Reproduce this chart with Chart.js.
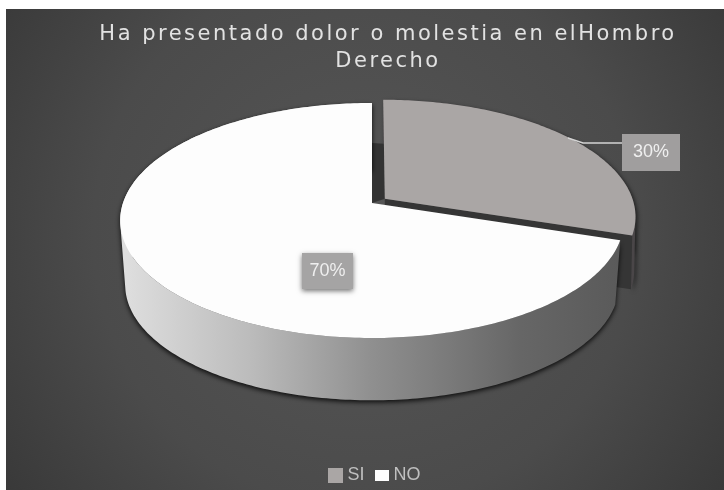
<!DOCTYPE html>
<html>
<head>
<meta charset="utf-8">
<style>html,body{margin:0;padding:0;background:#fff}canvas{display:block}</style>
<script src="https://cdn.jsdelivr.net/npm/chart.js@4/dist/chart.umd.min.js"></script>
</head>
<body>
<canvas id="pie" width="724" height="490"></canvas>
<script>
// Answers to the survey question
const categories = ['SI', 'NO'];
const responses = [30, 70];
const sliceColors = ['#aaa6a5', '#fdfdfd'];
const titleLines = ['Ha presentado dolor o molestia en elHombro', 'Derecho'];

// How far each slice is pulled out of the pie, as a fraction of its radius
const sliceExplode = [0.064, 0];
// Thickness and bottom-face scale of each slice
const sliceBases = [{depth: 54, scale: 0.995}, {depth: 65, scale: 0.98}];
// Legend swatch sizes [width, height]
const swatchSizes = [[15, 15], [14, 11]];

// Tilted-disc view of the pie
const view = {cx: 372, cy: 203, rx: 249, ry: 114.9, persist: 0.149};
const panel = {left: 6, top: 9};
const labelBoxes = [
  {x: 622, y: 134, w: 58, h: 37, fill: '#a09e9e', leader: [[568, 138], [583, 143], [622, 143]]},
  {x: 302, y: 253, w: 51, h: 36, fill: '#a5a4a4', shadow: true}
];

function project(theta, r, ex, ey, base) {
  const u = r * Math.cos(theta) + ex;
  const v = r * Math.sin(theta) + ey;
  const den = 1 - view.persist * v;
  const s = base ? base.scale : 1;
  return [view.cx + s * view.rx * u / den, view.cy + (base ? base.depth : 0) + s * view.ry * v / den];
}

function rimPoints(a0, a1, ex, ey, base) {
  const n = Math.max(8, Math.ceil(Math.abs(a1 - a0) * 60));
  const pts = [];
  for (let i = 0; i <= n; i++) pts.push(project(a0 + (a1 - a0) * i / n, 1, ex, ey, base));
  return pts;
}

function fillPoly(ctx, pts, fill) {
  ctx.beginPath();
  pts.forEach((p, i) => i ? ctx.lineTo(p[0], p[1]) : ctx.moveTo(p[0], p[1]));
  ctx.closePath();
  ctx.fillStyle = fill;
  ctx.fill();
}

// Wall between two rims, built from quads wound the same way so that
// overlapping front and back faces never cancel under the nonzero rule
function fillWall(ctx, rim, base, fill) {
  ctx.beginPath();
  for (let i = 0; i < rim.length - 1; i++) {
    let quad = [rim[i], rim[i + 1], base[i + 1], base[i]];
    let area = 0;
    quad.forEach((p, j) => {
      const q = quad[(j + 1) % 4];
      area += p[0] * q[1] - q[0] * p[1];
    });
    if (area < 0) quad = quad.slice().reverse();
    quad.forEach((p, j) => j ? ctx.lineTo(p[0], p[1]) : ctx.moveTo(p[0], p[1]));
    ctx.closePath();
  }
  ctx.fillStyle = fill;
  ctx.fill();
}

function makeSwatch(color, size) {
  const c = document.createElement('canvas');
  c.width = size[0];
  c.height = size[1];
  const x = c.getContext('2d');
  x.fillStyle = color;
  x.fillRect(0, 0, size[0], size[1]);
  return c;
}

const tiltedPie = {
  id: 'tiltedPie',
  beforeDraw(chart) {
    const {ctx, width, height} = chart;
    ctx.save();
    ctx.fillStyle = '#fff';
    ctx.fillRect(0, 0, width, height);
    const g = ctx.createRadialGradient(365, 235, 30, 365, 235, 470);
    g.addColorStop(0, '#555555');
    g.addColorStop(0.55, '#4b4b4b');
    g.addColorStop(1, '#363636');
    ctx.fillStyle = g;
    ctx.fillRect(panel.left, panel.top, width - panel.left, height - panel.top);
    ctx.restore();
  },
  afterLayout(chart) {
    // Title and legend sit slightly right of the canvas centre
    const t = chart.titleBlock, l = chart.legend;
    t.left += 26; t.right += 26;
    l.left += 15; l.right += 15;
    l.top += 4; l.bottom += 4;
    if (!t._spaced) {
      const drawTitle = t.draw.bind(t);
      t.draw = function () {
        chart.ctx.save();
        chart.ctx.letterSpacing = '2.5px';
        drawTitle();
        chart.ctx.restore();
      };
      t._spaced = true;
    }
  },
  beforeDatasetDraw(chart, args) {
    const {ctx} = chart;
    const arcs = chart.getDatasetMeta(args.index).data;
    const parts = arcs.map((arc, i) => {
      const {startAngle: a0, endAngle: a1} = arc.getProps(['startAngle', 'endAngle'], true);
      const mid = (a0 + a1) / 2;
      return {a0, a1, ex: sliceExplode[i] * Math.cos(mid), ey: sliceExplode[i] * Math.sin(mid), color: sliceColors[i], base: sliceBases[i]};
    });
    const [si, no] = parts;
    ctx.save();

    // Back slice: outer wall, cut faces, then its top
    const siRim = rimPoints(si.a0, si.a1, si.ex, si.ey, null);
    const siBase = rimPoints(si.a0, si.a1, si.ex, si.ey, si.base);
    ctx.save();
    ctx.shadowColor = 'rgba(0,0,0,0.6)';
    ctx.shadowBlur = 4;
    ctx.shadowOffsetX = 2;
    ctx.shadowOffsetY = 2;
    fillWall(ctx, siRim, siBase, '#4a4648');
    ctx.restore();
    const siApex = project(0, 0, si.ex, si.ey, null);
    const siApexBase = project(0, 0, si.ex, si.ey, si.base);
    fillPoly(ctx, [siApex, siRim[siRim.length - 1], siBase[siBase.length - 1], siApexBase], '#353535');
    // Inner cut face glimpsed through the gap between the slices
    fillPoly(ctx, [project(no.a1, 0, 0, 0, null), project(no.a1, 0.565, 0, 0, null),
      project(si.a0, 0.52, si.ex, si.ey, null), siApex], '#333333');
    fillPoly(ctx, [siApex].concat(siRim), si.color);

    // Front slice: curved wall with a soft shadow, then its top
    const noRim = rimPoints(no.a0, no.a1, no.ex, no.ey, null);
    const noBase = rimPoints(no.a0, no.a1, no.ex, no.ey, no.base);
    const side = ctx.createLinearGradient(125, 0, 620, 0);
    side.addColorStop(0, '#dedede');
    side.addColorStop(0.25, '#bcbcbc');
    side.addColorStop(0.5, '#8f8f8f');
    side.addColorStop(0.8, '#666666');
    side.addColorStop(1, '#5a5a5a');
    ctx.save();
    ctx.shadowColor = 'rgba(0,0,0,0.85)';
    ctx.shadowBlur = 5;
    ctx.shadowOffsetY = 2;
    fillWall(ctx, noRim, noBase, side);
    ctx.restore();
    fillPoly(ctx, [project(0, 0, no.ex, no.ey, null)].concat(noRim), no.color);

    ctx.restore();
    return false;
  },
  afterDatasetsDraw(chart) {
    const {ctx} = chart;
    const values = chart.data.datasets[0].data;
    const total = values.reduce((a, b) => a + b, 0);
    ctx.save();
    labelBoxes.forEach((b, i) => {
      if (b.leader) {
        ctx.beginPath();
        b.leader.forEach((p, j) => j ? ctx.lineTo(p[0], p[1]) : ctx.moveTo(p[0], p[1]));
        ctx.strokeStyle = '#d4d4d4';
        ctx.lineWidth = 1.5;
        ctx.stroke();
      }
      ctx.save();
      if (b.shadow) {
        ctx.shadowColor = 'rgba(0,0,0,0.55)';
        ctx.shadowBlur = 5;
        ctx.shadowOffsetY = 2;
      }
      ctx.fillStyle = b.fill;
      ctx.fillRect(b.x, b.y, b.w, b.h);
      ctx.restore();
      ctx.fillStyle = '#efefef';
      ctx.font = '18px "Liberation Sans", sans-serif';
      ctx.textAlign = 'center';
      ctx.textBaseline = 'middle';
      ctx.fillText(Math.round(values[i] / total * 100) + '%', b.x + b.w / 2, b.y + b.h / 2);
    });
    ctx.restore();
  }
};

new Chart(document.getElementById('pie'), {
  type: 'pie',
  data: {
    labels: categories,
    datasets: [{data: responses, backgroundColor: sliceColors, borderWidth: 0}]
  },
  options: {
    responsive: false,
    animation: false,
    plugins: {
      tooltip: {enabled: false},
      title: {
        display: true,
        text: titleLines,
        color: '#e2e2e2',
        font: {family: '"DejaVu Sans", sans-serif', size: 21, weight: 'normal', lineHeight: 1.24},
        padding: {top: 22, bottom: 10}
      },
      legend: {
        position: 'bottom',
        labels: {
          color: '#bfbfbf',
          usePointStyle: true,
          pointStyleWidth: 5,
          boxHeight: 14,
          padding: 15,
          font: {family: '"Liberation Sans", sans-serif', size: 18},
          generateLabels(chart) {
            return Chart.overrides.pie.plugins.legend.labels.generateLabels(chart).map((item, i) => {
              item.pointStyle = makeSwatch(sliceColors[i], swatchSizes[i]);
              return item;
            });
          }
        }
      }
    }
  },
  plugins: [tiltedPie]
});
</script>
</body>
</html>
